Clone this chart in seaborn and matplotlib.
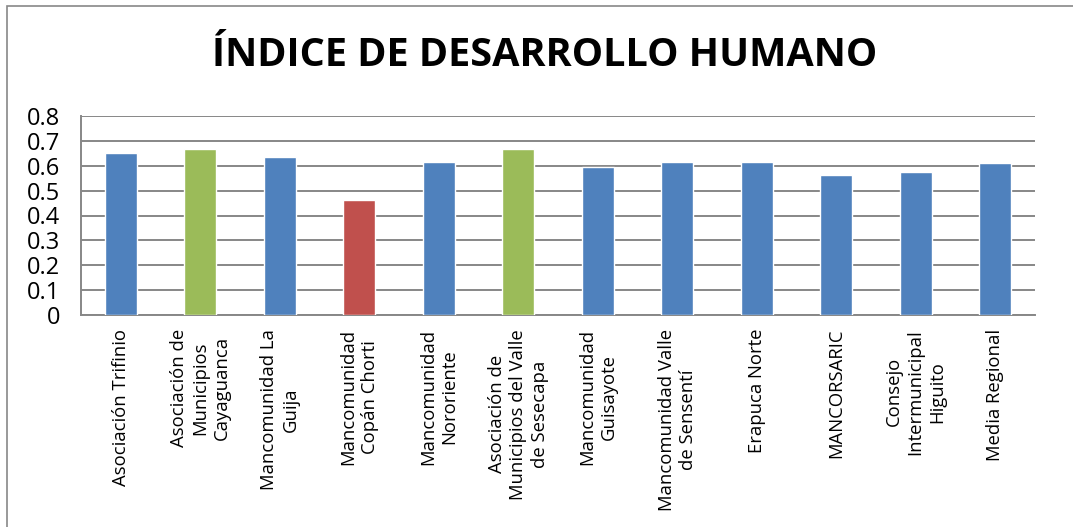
import matplotlib
matplotlib.use("Agg")
import matplotlib.pyplot as plt
import seaborn as sns
from matplotlib.patches import Rectangle

# data
regiones = [
    "Asociación Trifinio",
    "Asociación de\nMunicipios\nCayaguanca",
    "Mancomunidad La\nGuija",
    "Mancomunidad\nCopán Chorti",
    "Mancomunidad\nNororiente",
    "Asociación de\nMunicipios del Valle\nde Sesecapa",
    "Mancomunidad\nGuisayote",
    "Mancomunidad Valle\nde Sensentí",
    "Erapuca Norte",
    "MANCORSARIC",
    "Consejo\nIntermunicipal\nHiguito",
    "Media Regional",
]
idh = [0.650, 0.667, 0.634, 0.462, 0.615, 0.667, 0.596, 0.616, 0.614, 0.563, 0.574, 0.611]
colores = ["#4F81BD", "#9BBB59", "#4F81BD", "#C0504D", "#4F81BD", "#9BBB59",
           "#4F81BD", "#4F81BD", "#4F81BD", "#4F81BD", "#4F81BD", "#4F81BD"]

sns.set_style("white")
plt.rcParams["font.family"] = ["Open Sans", "DejaVu Sans"]
plt.rcParams["text.color"] = "black"
plt.rcParams["xtick.labelcolor"] = "black"
plt.rcParams["ytick.labelcolor"] = "black"

grid_gray = "#878787"

fig = plt.figure(figsize=(10.73, 5.27), dpi=100)
ax = fig.add_axes([81 / 1073, 1 - 315 / 527, (1035 - 81) / 1073, (315 - 116) / 527])

sns.barplot(x=regiones, y=idh, hue=regiones, palette=colores, width=0.4,
            legend=False, saturation=1, ax=ax, zorder=3)

ax.set_ylim(0, 0.8)
ax.set_xlim(-0.5, len(regiones) - 0.5)
ax.set_yticks([i / 10 for i in range(9)])
ax.set_yticklabels(["0"] + [f"{i / 10:.1f}" for i in range(1, 9)], fontsize=17)
ax.yaxis.grid(True, color=grid_gray, linewidth=1.4)
ax.set_axisbelow(True)

# tick marks between categories, labels at centres
ax.set_xticks(range(len(regiones)))
ax.set_xticklabels(regiones, rotation=90, ha="center", va="top",
                   multialignment="center", fontsize=13.3, linespacing=1.25)
ax.tick_params(axis="x", length=0, pad=10)
ax.set_xticks([i - 0.5 for i in range(len(regiones) + 1)], minor=True)
ax.tick_params(axis="x", which="minor", length=6, width=1.3, color=grid_gray, direction="out")
ax.tick_params(axis="y", length=8, width=1.3, color=grid_gray, direction="out", pad=7)

for side in ["top", "right"]:
    ax.spines[side].set_visible(False)
for side in ["left", "bottom"]:
    ax.spines[side].set_color(grid_gray)
    ax.spines[side].set_linewidth(1.4)

fig.text(545 / 1073, 1 - 55 / 527, "ÍNDICE DE DESARROLLO HUMANO", ha="center", va="center",
         fontsize=28.5, fontweight="bold", color="black")

# outer chart border (only top and left edges inside the picture)
fig.patches.append(Rectangle((7 / 1073, -0.1), 1.2, (527 - 5) / 527 + 0.1 - 0.001,
                             transform=fig.transFigure, fill=False,
                             edgecolor="#888888", linewidth=1.2))

fig.savefig("out.png", dpi=100)
